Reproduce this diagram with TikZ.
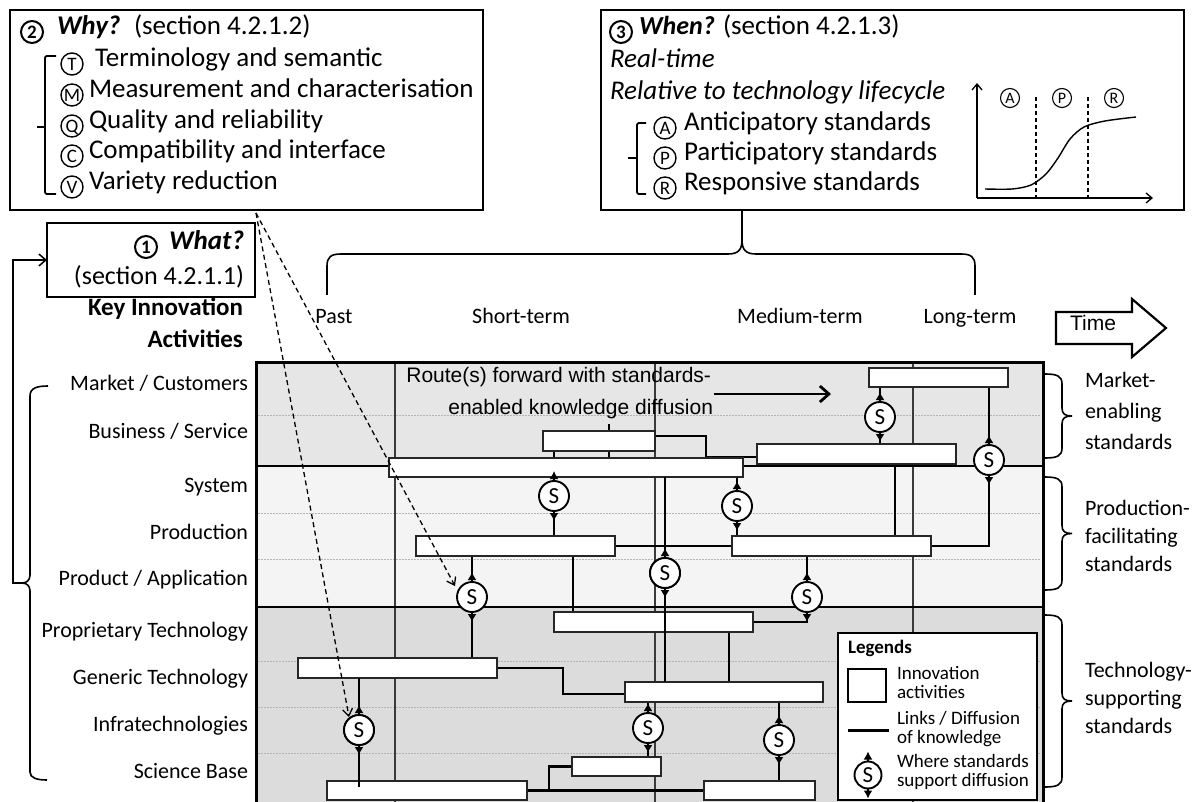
\documentclass[tikz,border=0pt]{standalone}
\usepackage{fontspec}
\setmainfont{Carlito}
\newfontfamily\arialfont{Liberation Sans}
\usetikzlibrary{arrows.meta,calc}
\newcommand{\fsz}[1]{\fontsize{#1pt}{#1pt}\selectfont}
\pgfdeclarelayer{grid}
\pgfdeclarelayer{links}
\pgfsetlayers{grid,links,main}

\definecolor{mktband}{HTML}{E6E6E6}
\definecolor{prodband}{HTML}{F4F4F4}
\definecolor{techband}{HTML}{DCDCDC}
\definecolor{rulegray}{HTML}{3A3A3A}
\definecolor{dotgray}{HTML}{B4B4B4}

% curly brace opening to the left, tip pointing right: x, top y, bottom y
\newcommand{\sidebrace}[3]{%
  \draw[brc] (#1,#2) .. controls (#1+12,#2) and (#1+17,#2+2) .. (#1+17,#2+10)
    -- (#1+17,{(#2+#3)/2-8}) .. controls (#1+17,{(#2+#3)/2-2}) and (#1+20,{(#2+#3)/2}) .. (#1+27,{(#2+#3)/2})
    .. controls (#1+20,{(#2+#3)/2}) and (#1+17,{(#2+#3)/2+2}) .. (#1+17,{(#2+#3)/2+8})
    -- (#1+17,#3-10) .. controls (#1+17,#3-2) and (#1+12,#3) .. (#1,#3);}
% the two small arrows of a standards symbol
\newcommand{\sarrows}[1]{\draw[sarr] (#1.north) -- ++(0,-10); \draw[sarr] (#1.south) -- ++(0,10);}

\begin{document}
\begin{tikzpicture}[x=1pt,y=-1pt,
  every node/.style={inner sep=0pt,outer sep=0pt},
  act/.style={draw=black!85,fill=white,line width=1.5pt,anchor=north west,minimum height=20pt},
  bigbox/.style={draw,fill=white,line width=2.8pt,anchor=north west},
  link/.style={line width=2.8pt,black},
  snode/.style={circle,draw,fill=white,line width=1.9pt,minimum size=30pt,font=\fsz{23},text height=14.8pt,text depth=0pt},
  sarr/.style={line width=2.8pt,-{Latex[length=8pt,width=9pt]}},
  circ/.style={circle,draw,line width=1.4pt,minimum size=22pt,font=\fsz{19},text height=12.2pt,text depth=0pt},
  small circ/.style={circle,draw,line width=1.1pt,minimum size=19pt,font=\fsz{16},text height=10.3pt,text depth=0pt},
  num circ/.style={circle,draw,line width=2pt,minimum size=22pt,font=\fsz{19}\bfseries,text height=12.2pt,text depth=0pt},
  item/.style={anchor=mid west,font=\fsz{27}},
  rowlbl/.style={anchor=mid east,font=\fsz{22}},
  sidelbl/.style={anchor=mid west,font=\fsz{22}},
  leglbl/.style={anchor=mid west,font=\fsz{19}},
  brc/.style={line width=1.6pt},
  dasharr/.style={line width=1.3pt,dash pattern=on 5pt off 3.5pt,-{Straight Barb[length=7pt,width=10pt]}},
  openarr/.style={line width=1.5pt,-{Straight Barb[length=7pt,width=12pt]}}
]
\useasboundingbox (0,0) rectangle (1197,802);

% ---------------- grid of bands and periods ----------------
\begin{pgfonlayer}{grid}
  \fill[white] (0,0) rectangle (1197,802);
  \fill[mktband] (256,362) rectangle (1043,466);
  \fill[prodband] (256,466) rectangle (1043,607);
  \fill[techband] (256,607) rectangle (1043,802);
  \foreach \yy in {415,513,559,661,707,753}
    \draw[dotgray,line width=0.9pt,dash pattern=on 1.5pt off 1.5pt] (258,\yy) -- (1041,\yy);
  \foreach \xx in {395,655,913}
    \draw[rulegray,line width=1.5pt] (\xx,362) -- (\xx,802);
  \draw[line width=2pt] (256,466) -- (1043,466);
  \draw[line width=2pt] (256,607) -- (1043,607);
  \draw[line width=3pt] (256,802) -- (256,362) -- (1043,362) -- (1043,802);
\end{pgfonlayer}

% ---------------- innovation activities ----------------
\node[act,minimum width=139pt,minimum height=19pt] (b4) at (869,368) {};
\node[act,minimum width=112pt] (b1) at (543,431) {};
\node[act,minimum width=199pt] (b3) at (757,444) {};
\node[act,minimum width=354pt,minimum height=19pt] (b2) at (389,458) {};
\node[act,minimum width=199pt] (p1) at (416,536) {};
\node[act,minimum width=199pt] (p2) at (732,536) {};
\node[act,minimum width=199pt] (t1) at (554,612) {};
\node[act,minimum width=199pt] (t2) at (298,658) {};
\node[act,minimum width=198pt] (t3) at (625,682) {};
\node[act,minimum width=89pt,minimum height=19pt] (t4) at (572,757) {};
\node[act,minimum width=200pt,minimum height=19pt] (t5) at (327,781) {};
\node[act,minimum width=111pt,minimum height=19pt] (t6) at (704,781) {};

% ---------------- standards symbols ----------------
\node[snode] (s1) at (554,496) {S};
\node[snode] (s2) at (880,417) {S};
\node[snode] (s3) at (989,460) {S};
\node[snode] (s4) at (737,506) {S};
\node[snode] (s5) at (665,573) {S};
\node[snode] (s6) at (472,597) {S};
\node[snode] (s7) at (807,597) {S};
\node[snode] (s8) at (359,730) {S};
\node[snode] (s9) at (648,728) {S};
\node[snode] (s10) at (779,740) {S};

% ---------------- links (behind the activities) ----------------
\coordinate (rtfoot) at (609,424);
\coordinate (k1) at (706,457);
\coordinate (x895) at (895,0);
\coordinate (x573) at (573,0);
\coordinate (x729) at (729,0);
\coordinate (k2) at (563,694);
\coordinate (x549) at (549,0);
\begin{pgfonlayer}{links}
  \draw[link] (rtfoot) -- (rtfoot |- b2.north);
  \draw[link] ([yshift=5pt]b1.east) -| (k1) -- ([yshift=-3pt]b3.west);
  \draw[link] (s1 |- b1.south) -- (s1 |- p1.north);
  \draw[link] (s2 |- b4.south) -- (s2 |- b3.north);
  \draw[link] (s3 |- b4.south) -- (s3 |- p2.east) -- (p2.east);
  \draw[link] (s4 |- b2.south) -- (s4 |- p2.north);
  \draw[link] (x895 |- b3.south) -- (x895 |- p2.north);
  \draw[link] (p1.east) -- (p2.west);
  \draw[link] (x573 |- p1.south) -- (x573 |- t1.north);
  \draw[link] (s6 |- p1.south) -- (s6 |- t2.north);
  \draw[link] (s7 |- p2.south) -- (s7 |- t1.east) -- (t1.east);
  \draw[link] (x729 |- t1.south) -- (x729 |- t3.north);
  \draw[link] (t2.east) -| (k2) -- (k2 -| t3.west);
  \draw[link] (s9 |- t3.south) -- (s9 |- t4.north);
  \draw[link] (s10 |- t3.south) -- (s10 |- t6.north);
  \draw[link] (t5.east) -- (t6.west);
  \draw[link] (x549 |- t5.east) -- (x549 |- t4.west) -- (t4.west);
\end{pgfonlayer}
% links that cross over an activity
\draw[link] (s5 |- b2.south) -- (s5 |- t3.north);
\draw[link] (s8 |- t2.south) -- ([yshift=-6pt]s8 |- t5.north);
% redraw symbols on top of the crossing links
\foreach \s in {s5,s8} \node[snode] at (\s) {S};
\foreach \s in {s1,s2,s3,s4,s5,s6,s7,s8,s9,s10} {\sarrows{\s}}

% ---------------- legend ----------------
\node[draw,fill=white,line width=1.6pt,anchor=north west,minimum width=199pt,minimum height=167pt] (legend) at (838,633) {};
\node[anchor=mid west,font=\fsz{19}\bfseries] (legt) at (848,651) {Legends};
\node[draw,line width=1.5pt,anchor=north west,minimum width=38pt,minimum height=33pt] (legbox) at (848,669) {};
\node[leglbl] (leg1a) at (897,677) {Innovation};
\node[leglbl] (leg1b) at (897,696) {activities};
\coordinate (legl1) at (848,730);
\coordinate (legl2) at (889,730);
\draw[line width=3pt] (legl1) -- (legl2);
\node[leglbl] (leg2a) at (897,722) {Links / Diffusion};
\node[leglbl] (leg2b) at (897,741) {of knowledge};
\node[snode,minimum size=27pt] (legs) at (868,775) {S};
\sarrows{legs}
\node[leglbl] (leg3a) at (897,765) {Where standards};
\node[leglbl] (leg3b) at (897,784) {support diffusion};

% ---------------- route text ----------------
\node[anchor=mid east,font=\arialfont\fsz{21}] (rt1) at (711,380) {Route(s) forward with standards-};
\node[anchor=mid east,font=\arialfont\fsz{21}] (rt2) at (713,412) {enabled knowledge diffusion};
\coordinate (ra) at (714,394);
\coordinate (rb) at (831,394);
\draw[line width=2.8pt,-{Straight Barb[length=9pt,width=16pt]}] (ra) -- (rb);

% ---------------- activity rows ----------------
\node[rowlbl] at (248,388) {Market / Customers};
\node[rowlbl] at (248,436) {Business / Service};
\node[rowlbl] at (248,490) {System};
\node[rowlbl] at (248,537) {Production};
\node[rowlbl] at (248,583) {Product / Application};
\node[rowlbl] at (248,635) {Proprietary Technology};
\node[rowlbl] at (248,682) {Generic Technology};
\node[rowlbl] at (248,729) {Infratechnologies};
\node[rowlbl] at (248,776) {Science Base};
\node[anchor=mid east,font=\fsz{25}\bfseries] (kia1) at (243,313) {Key Innovation};
\node[anchor=mid east,font=\fsz{25}\bfseries] (kia2) at (243,345) {Activities};

% left bracket gathering the rows
\coordinate (ltip) at (22,583);
\draw[brc] (48,386) .. controls (37,386) and (30,388) .. (30,396) -- (30,575)
  .. controls (30,580) and (27,583) .. (ltip) .. controls (27,583) and (30,586) .. (30,591)
  -- (30,772) .. controls (30,778) and (37,780) .. (47,780);

% ---------------- what box ----------------
\node[bigbox,minimum width=208pt,minimum height=74pt] (what) at (47,223) {};
\node[anchor=mid east,font=\fsz{27}\bfseries\itshape] (whatt) at (244,247) {What?};
\node[num circ] (n1) at (146,247) {1};
\node[anchor=mid east,font=\fsz{26}] (whats) at (244,282) {(section 4.2.1.1)};
\draw[openarr] (ltip) -| (13,260) -- (what.west);

% ---------------- why box ----------------
\node[bigbox,minimum width=473pt,minimum height=200pt] (why) at (10,10) {};
\node[num circ] (n2) at (32,32) {2};
\node[item,font=\fsz{27}\bfseries\itshape] (whyq) at (57,32) {Why?};
\node[item] (whyt) at (134,32) {(section 4.2.1.2)};
\foreach \yy/\lt/\txt [count=\i] in {64/T/{\ Terminology and semantic},95/M/Measurement and characterisation,126/Q/Quality and reliability,156/C/Compatibility and interface,187/V/Variety reduction} {
  \node[circ] (why\lt) at (72,\yy) {\lt};
  \node[item] (whytxt\i) at (89,\yy) {\txt};
}
\draw[brc,line width=1.8pt,rounded corners=2pt] (56,56) -- (45,56) -- (45,194) -- (56,194);
\draw[brc,line width=1.8pt] (45,127) -- (37,127);

% ---------------- when box ----------------
\node[bigbox,minimum width=583pt,minimum height=200pt] (when) at (601,10) {};
\node[num circ] (n3) at (621,32) {3};
\node[item,font=\fsz{26}\bfseries\itshape] (whenq) at (639,32) {When?};
\node[item] (whent) at (723,32) {(section 4.2.1.3)};
\node[item,font=\fsz{27}\itshape] (rtime) at (610,65) {Real-time};
\node[item,font=\fsz{27}\itshape] (rlife) at (610,97) {Relative to technology lifecycle};
\foreach \yy/\lt/\txt in {128/A/Anticipatory standards,158/P/Participatory standards,188/R/Responsive standards} {
  \node[circ] (when\lt) at (665,\yy) {\lt};
  \node[item] (whentxt\lt) at (684,\yy) {\txt};
}
\draw[brc,line width=1.8pt,rounded corners=2pt] (646,123) -- (637,123) -- (637,194) -- (646,194);
\draw[brc,line width=1.8pt] (637,158) -- (628,158);
% lifecycle chart
\coordinate (co) at (977,198);
\coordinate (cy) at (977,83);
\coordinate (cx) at (1153,198);
\draw[line width=1.3pt,-{Straight Barb[length=6pt,width=10pt]}] (co) -- (cy);
\draw[line width=1.3pt,-{Straight Barb[length=6pt,width=10pt]}] (co) -- (cx);
\draw[line width=1.4pt] plot[smooth] coordinates {(985,189) (1012,189) (1031,185) (1046,174) (1058,158) (1070,139) (1084,127) (1105,121) (1136,117)};
\draw[line width=1.1pt,dash pattern=on 4pt off 3pt] (1036,97) -- (1036,198);
\draw[line width=1.1pt,dash pattern=on 4pt off 3pt] (1088,97) -- (1088,198);
\node[small circ] (ca) at (1010,98) {A};
\node[small circ] (cp) at (1062,98) {P};
\node[small circ] (cr) at (1114,98) {R};

% ---------------- time scale ----------------
\draw[brc] (327,295) -- (327,266) .. controls (327,257) and (331,254) .. (341,254) -- (728,254)
  .. controls (738,254) and (742,250) .. (742,240) -- (742,211);
\draw[brc] (742,240) .. controls (742,250) and (746,254) .. (756,254) -- (961,254)
  .. controls (971,254) and (975,257) .. (975,266) -- (975,295);
\node[anchor=mid,font=\fsz{22}] (past) at (334,321) {Past};
\node[anchor=mid,font=\fsz{22}] (short) at (521,321) {Short-term};
\node[anchor=mid,font=\fsz{22}] (medium) at (800,321) {Medium-term};
\node[anchor=mid,font=\fsz{22}] (long) at (970,321) {Long-term};
\draw[line width=2.2pt,fill=white] (1056,312) -- (1132,312) -- (1132,299) -- (1166,328) -- (1132,357) -- (1132,344) -- (1056,344) -- cycle;
\node[anchor=mid,font=\arialfont\fsz{21}] (time) at (1093,328) {Time};

% ---------------- side braces ----------------
\sidebrace{1045}{374}{458}
\sidebrace{1045}{477}{590}
\sidebrace{1045}{615}{787}
\node[sidelbl] at (1085,385) {Market-};
\node[sidelbl] at (1085,416) {enabling};
\node[sidelbl] at (1085,447) {standards};
\node[sidelbl] at (1085,513) {Production-};
\node[sidelbl] at (1085,541) {facilitating};
\node[sidelbl] at (1085,569) {standards};
\node[sidelbl] at (1085,675) {Technology-};
\node[sidelbl] at (1085,703) {supporting};
\node[sidelbl] at (1085,731) {standards};

% ---------------- dashed pointers from the why box ----------------
\coordinate (dstart) at (256,213);
\draw[dasharr] (dstart) -- ($(s6)+(-17,-11)$);
\draw[dasharr] (dstart) -- ($(s8)+(-10,-13)$);
\end{tikzpicture}
\end{document}
